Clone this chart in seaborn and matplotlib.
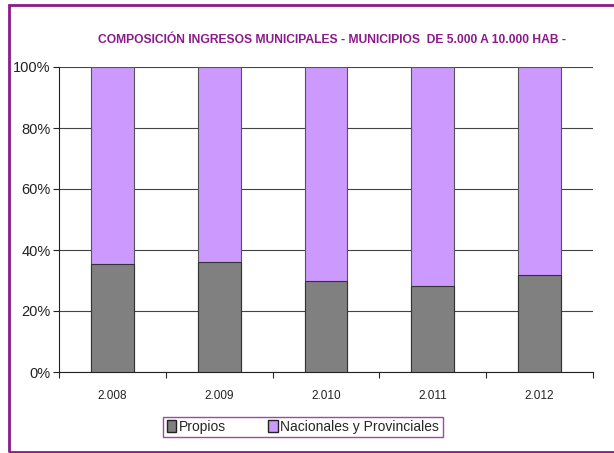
import pandas as pd
import matplotlib.pyplot as plt
import matplotlib.patches as mpatches
from matplotlib.ticker import FixedLocator
import seaborn as sns

years = ["2.008", "2.009", "2.010", "2.011", "2.012"]
propios = [35.5, 36.1, 29.8, 28.3, 31.9]
nacionales = [64.5, 63.9, 70.2, 71.7, 68.1]

df = pd.DataFrame({"anio": years, "Propios": propios, "Nacionales": nacionales})
df["total"] = df["Propios"] + df["Nacionales"]

sns.set_style("white")
plt.rcParams["font.family"] = ["Liberation Sans", "DejaVu Sans"]

purple = "#CC99FF"
grey = "#808080"
frame = "#8B1A8B"

fig = plt.figure(figsize=(6.14, 4.53), dpi=100)
ax = fig.add_axes([59 / 614, 81 / 453, 534 / 614, 305 / 453])

sns.barplot(data=df, x="anio", y="total", color=purple, width=0.4,
            edgecolor="#555555", linewidth=0.8, saturation=1, ax=ax, zorder=3)
sns.barplot(data=df, x="anio", y="Propios", color=grey, width=0.4,
            edgecolor="#333333", linewidth=0.8, saturation=1, ax=ax, zorder=4)

ax.set_xlim(-0.5, len(years) - 0.5)
ax.set_ylim(0, 100)
ax.set_yticks(range(0, 101, 20))
ax.set_yticklabels([f"{v}%" for v in range(0, 101, 20)], fontsize=10.5)
ax.yaxis.grid(True, color="#444444", linewidth=0.8, zorder=0)
ax.set_axisbelow(True)
ax.tick_params(axis="y", length=4, width=0.8, direction="out", left=True, pad=2, colors="#222222")
ax.tick_params(axis="x", which="major", length=0, labelsize=8.5, pad=13, colors="#222222")
ax.xaxis.set_minor_locator(FixedLocator([i - 0.5 for i in range(len(years) + 1)]))
ax.tick_params(axis="x", which="minor", length=4, width=0.8, direction="out", bottom=True)
ax.set_xlabel("")
ax.set_ylabel("")
for side in ["top", "right"]:
    ax.spines[side].set_visible(False)
for side in ["left", "bottom"]:
    ax.spines[side].set_color("#222222")
    ax.spines[side].set_linewidth(0.8)

fig.text(332 / 614, 1 - 40 / 453, "COMPOSICIÓN INGRESOS MUNICIPALES - MUNICIPIOS  DE 5.000 A 10.000 HAB -",
         ha="center", va="center", color=frame, fontsize=8.7, fontweight="bold")

handles = [mpatches.Patch(facecolor=grey, edgecolor="#222222", label="Propios"),
           mpatches.Patch(facecolor=purple, edgecolor="#222222", label="Nacionales y Provinciales")]
leg = fig.legend(handles=handles, loc="center", bbox_to_anchor=(303 / 614, 1 - 427 / 453),
                 ncol=2, frameon=True, fancybox=False, fontsize=10, handlelength=0.7,
                 handleheight=0.9, handletextpad=0.2, columnspacing=3.0, borderpad=0.25)
leg.get_frame().set_edgecolor(frame)
leg.get_frame().set_linewidth(1.0)

fig.patches.append(mpatches.Rectangle((9 / 614, 1.5 / 453), 1.2, 1 - 6.5 / 453,
                                      transform=fig.transFigure, fill=False,
                                      edgecolor=frame, linewidth=2))

fig.savefig("out.png", dpi=100)
